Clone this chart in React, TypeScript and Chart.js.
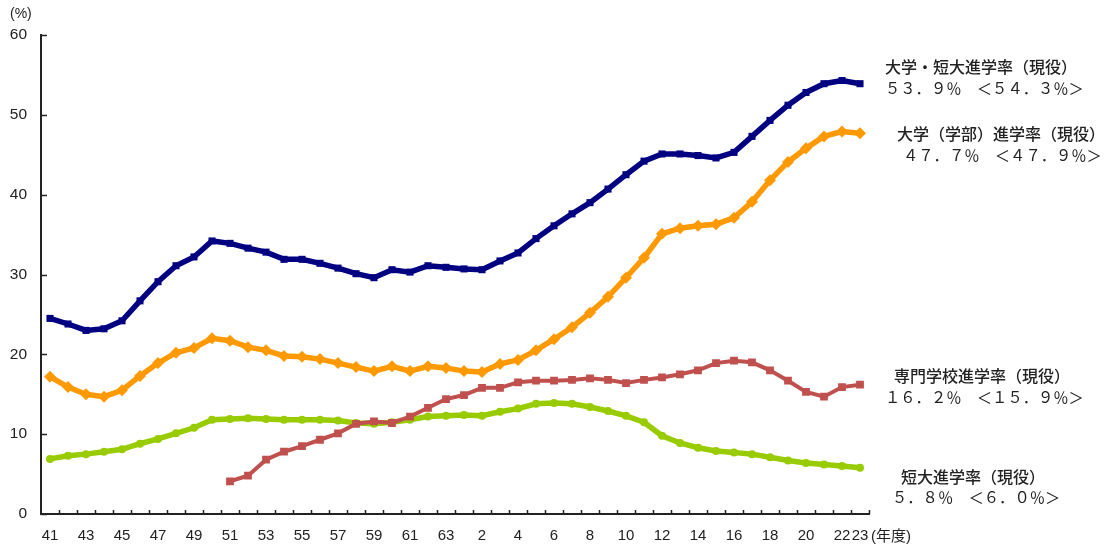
import { useEffect, useRef } from "react";
import { Chart, registerables } from "chart.js";

Chart.register(...registerables);

// 年度 (昭和41年度〜平成23年度)
const years = [
  "41", "42", "43", "44", "45", "46", "47", "48", "49", "50",
  "51", "52", "53", "54", "55", "56", "57", "58", "59", "60",
  "61", "62", "63", "元", "2", "3", "4", "5", "6", "7",
  "8", "9", "10", "11", "12", "13", "14", "15", "16", "17",
  "18", "19", "20", "21", "22", "23",
];

// 大学・短大進学率（現役）
const univAndJunior = [
  24.5, 23.8, 23.0, 23.2, 24.2, 26.7, 29.1, 31.1, 32.2, 34.2,
  33.9, 33.3, 32.8, 31.9, 31.9, 31.4, 30.8, 30.1, 29.6, 30.6,
  30.3, 31.1, 30.9, 30.7, 30.6, 31.7, 32.7, 34.5, 36.1, 37.6,
  39.0, 40.7, 42.5, 44.2, 45.1, 45.1, 44.9, 44.6, 45.3, 47.3,
  49.3, 51.2, 52.8, 53.9, 54.3, 53.9,
];

// 大学（学部）進学率（現役）
const univUndergrad = [
  17.2, 15.9, 15.0, 14.7, 15.5, 17.3, 18.9, 20.2, 20.8, 22.0,
  21.7, 20.9, 20.5, 19.8, 19.7, 19.4, 18.9, 18.4, 17.9, 18.5,
  17.9, 18.5, 18.3, 17.9, 17.8, 18.8, 19.3, 20.5, 21.9, 23.4,
  25.2, 27.2, 29.6, 32.1, 35.1, 35.8, 36.1, 36.3, 37.1, 39.1,
  41.8, 44.1, 45.8, 47.3, 47.9, 47.7,
];

// 専門学校進学率（現役） 昭和51年度から
const vocational = [
  null, null, null, null, null, null, null, null, null, null,
  4.1, 4.8, 6.8, 7.8, 8.5, 9.3, 10.1, 11.3, 11.6, 11.4,
  12.2, 13.3, 14.4, 14.9, 15.8, 15.8, 16.5, 16.7, 16.7, 16.8,
  17.0, 16.8, 16.4, 16.8, 17.1, 17.5, 18.0, 18.9, 19.2, 19.0,
  18.0, 16.7, 15.3, 14.7, 15.9, 16.2,
];

// 短大進学率（現役）
const juniorCollege = [
  6.9, 7.3, 7.5, 7.8, 8.1, 8.8, 9.4, 10.1, 10.8, 11.8,
  11.9, 12.0, 11.9, 11.8, 11.8, 11.8, 11.7, 11.4, 11.3, 11.5,
  11.8, 12.2, 12.3, 12.4, 12.3, 12.8, 13.2, 13.8, 13.9, 13.8,
  13.4, 12.9, 12.3, 11.5, 9.8, 8.9, 8.3, 7.9, 7.7, 7.5,
  7.1, 6.7, 6.4, 6.2, 6.0, 5.8,
];

const yTicks = [0, 10, 20, 30, 40, 50, 60];

// 右側の系列注記（最新年度値 ＜前年度値＞）
const noteTitles = [
  "大学・短大進学率（現役）",
  "大学（学部）進学率（現役）",
  "専門学校進学率（現役）",
  "短大進学率（現役）",
];
const noteValues = [
  "５３．９％　＜５４．３％＞",
  "４７．７％　＜４７．９％＞",
  "１６．２％　＜１５．９％＞",
  "５．８％　＜６．０％＞",
];

const FONT = "'Liberation Sans', 'Noto Sans CJK JP', sans-serif";
const JP_FONT = "'Noto Sans CJK JP', 'Liberation Sans', sans-serif";

// 軸の内向き目盛と注記テキストを描くプラグイン
const decorations = {
  id: "decorations",
  afterDraw(chart: any) {
    const { ctx, chartArea, scales } = chart;
    const x = scales.x;
    const y = scales.y;
    ctx.save();
    ctx.strokeStyle = "#222";
    ctx.lineWidth = 1.5;
    // y軸: 右向きの目盛
    yTicks.forEach((v) => {
      const py = Math.round(y.getPixelForValue(v)) + 0.5;
      ctx.beginPath();
      ctx.moveTo(chartArea.left, py);
      ctx.lineTo(chartArea.left + 6, py);
      ctx.stroke();
    });
    // x軸: 項目の境界に上向きの目盛
    const step = (chartArea.right - chartArea.left) / years.length;
    for (let k = 1; k <= years.length; k++) {
      const px = Math.round(chartArea.left + step * k) + 0.5;
      ctx.beginPath();
      ctx.moveTo(px, chartArea.bottom);
      ctx.lineTo(px, chartArea.bottom - 4);
      ctx.stroke();
    }

    ctx.fillStyle = "#222";
    ctx.textBaseline = "middle";
    ctx.textAlign = "left";
    ctx.font = `14px ${FONT}`;
    ctx.fillText("(%)", 10, 14);
    ctx.font = `15px ${FONT}`;
    const lastX = x.getPixelForValue(years.length - 1);
    ctx.fillText("(年度)", lastX + 11, 537);

    const notePos = [
      { tx: 885, ty: 67, vx: 885, vy: 88 },
      { tx: 897, ty: 134, vx: 903, vy: 155 },
      { tx: 894, ty: 376, vx: 885, vy: 397 },
      { tx: 901, ty: 477, vx: 892, vy: 497 },
    ];
    notePos.forEach((p, i) => {
      ctx.font = `500 16px ${JP_FONT}`;
      ctx.fillText(noteTitles[i], p.tx, p.ty);
      ctx.font = `15.3px ${JP_FONT}`;
      ctx.fillText(noteValues[i], p.vx, p.vy);
    });
    ctx.restore();
  },
};

export default function App() {
  const canvasRef = useRef<HTMLCanvasElement | null>(null);

  useEffect(() => {
    const canvas = canvasRef.current;
    if (!canvas) return;
    const chart = new Chart(canvas, {
      type: "line",
      data: {
        labels: years,
        datasets: [
          {
            label: "大学・短大進学率（現役）",
            data: univAndJunior,
            borderColor: "#000080",
            backgroundColor: "#000080",
            borderWidth: 5.5,
            pointStyle: "rect",
            pointRadius: 5,
            pointBorderWidth: 0,
            order: 1,
          },
          {
            label: "大学（学部）進学率（現役）",
            data: univUndergrad,
            borderColor: "#FF9900",
            backgroundColor: "#FF9900",
            borderWidth: 5.5,
            pointStyle: "rectRot",
            pointRadius: 6,
            pointBorderWidth: 0,
            order: 2,
          },
          {
            label: "専門学校進学率（現役）",
            data: vocational,
            borderColor: "#C0504D",
            backgroundColor: "#C0504D",
            borderWidth: 4,
            pointStyle: "rect",
            pointRadius: 5.5,
            pointBorderWidth: 0,
            spanGaps: false,
            order: 3,
          },
          {
            label: "短大進学率（現役）",
            data: juniorCollege,
            borderColor: "#99CC00",
            backgroundColor: "#99CC00",
            borderWidth: 5.5,
            pointStyle: "circle",
            pointRadius: 4,
            pointBorderWidth: 0,
            order: 4,
          },
        ],
      },
      options: {
        responsive: false,
        animation: false,
        events: [],
        layout: { padding: { top: 35, right: 236, left: 0, bottom: 0 } },
        plugins: {
          legend: { display: false },
          tooltip: { enabled: false },
        },
        elements: { line: { tension: 0 } },
        scales: {
          x: {
            type: "category",
            offset: true,
            grid: { display: false, drawTicks: false, offset: true },
            border: { display: true, color: "#222", width: 2 },
            ticks: {
              autoSkip: false,
              maxRotation: 0,
              minRotation: 0,
              padding: 13,
              color: "#222",
              font: { family: FONT, size: 15 },
              callback: (_v: any, i: number) =>
                i % 2 === 0 || i === years.length - 1 ? years[i] : "",
            },
            afterFit: (s: any) => {
              s.height = 32;
            },
          },
          y: {
            min: 0,
            max: 60,
            grid: { display: false, drawTicks: false },
            border: { display: true, color: "#222", width: 2 },
            ticks: {
              stepSize: 10,
              padding: 14,
              color: "#222",
              font: { family: FONT, size: 15.5 },
            },
            afterFit: (s: any) => {
              s.width = 41;
            },
          },
        },
      },
      plugins: [decorations],
    });
    return () => chart.destroy();
  }, []);

  return (
    <div style={{ position: "absolute", left: 0, top: 0, width: 1105, height: 546, background: "#fff" }}>
      <canvas ref={canvasRef} width={1105} height={546} />
    </div>
  );
}
